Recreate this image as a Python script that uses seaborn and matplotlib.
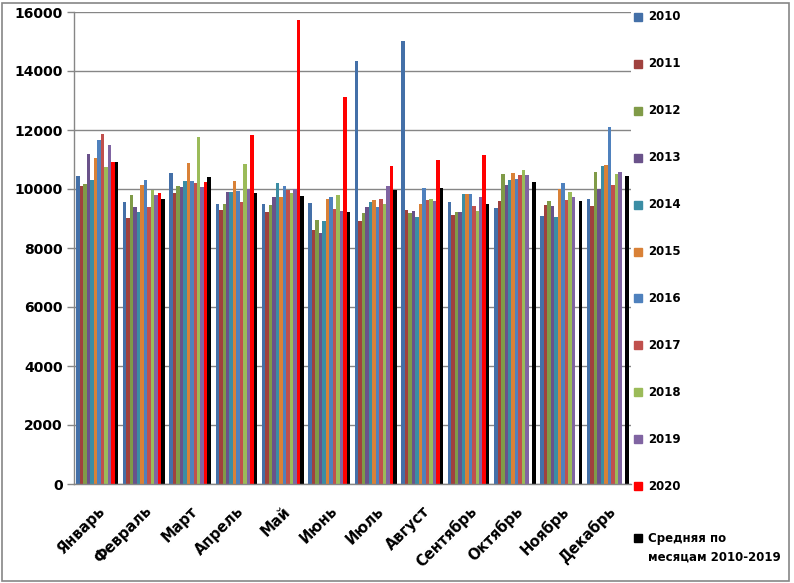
import matplotlib
matplotlib.use("Agg")
import matplotlib.pyplot as plt
from matplotlib.patches import Rectangle
import numpy as np
import pandas as pd
import seaborn as sns

months = ['Январь', 'Февраль', 'Март', 'Апрель', 'Май', 'Июнь',
          'Июль', 'Август', 'Сентябрь', 'Октябрь', 'Ноябрь', 'Декабрь']

y2010 = [10440, 9560, 10540, 9490, 9490, 9520, 14340, 15020, 9560, 9360, 9090, 9660]
y2011 = [10100, 9020, 9860, 9290, 9220, 8610, 8920, 9290, 9120, 9590, 9460, 9420]
y2012 = [10170, 9800, 10100, 9490, 9460, 8950, 9190, 9190, 9220, 10510, 9590, 10580]
y2013 = [11190, 9390, 10070, 9900, 9730, 8510, 9390, 9250, 9220, 10140, 9420, 10000]
y2014 = [10300, 9220, 10270, 9900, 10200, 8920, 9560, 9050, 9830, 10300, 9050, 10780]
y2015 = [11050, 10140, 10880, 10270, 9730, 9660, 9630, 9490, 9830, 10540, 10000, 10810]
y2016 = [11660, 10300, 10270, 9930, 10100, 9730, 9390, 10030, 9830, 10340, 10200, 12100]
y2017 = [11860, 9390, 10200, 9560, 9970, 9320, 9660, 9630, 9420, 10470, 9630, 10140]
y2018 = [10750, 9980, 11760, 10850, 9860, 9800, 9490, 9660, 9250, 10640, 9900, 10510]
y2019 = [11490, 9800, 10070, 10000, 10000, 9250, 10100, 9590, 9730, 10470, 9730, 10580]
y2020 = [10920, 9860, 10240, 11830, 15730, 13120, 10780, 10980, 11150, np.nan, np.nan, np.nan]
avg_2010_2019 = [10910, 9660, 10410, 9860, 9760, 9220, 9970, 10030, 9490, 10240, 9590, 10440]

series = ['2010', '2011', '2012', '2013', '2014', '2015', '2016', '2017',
          '2018', '2019', '2020', 'Средняя по\nмесяцам 2010-2019']
values = [y2010, y2011, y2012, y2013, y2014, y2015, y2016, y2017,
          y2018, y2019, y2020, avg_2010_2019]
colors = ['#4470A8', '#A0413E', '#809B48', '#6A528A', '#3B8DA4', '#D98137',
          '#4F81BD', '#C0504D', '#9BBB59', '#8064A2', '#FF0000', '#000000']

# длинная таблица для seaborn
rows = []
for name, vals in zip(series, values):
    for m, v in zip(months, vals):
        rows.append({'month': m, 'series': name, 'value': v})
df = pd.DataFrame(rows).dropna()

sns.set_theme(style='white')
plt.rcParams['font.family'] = ['DejaVu Sans']
plt.rcParams['text.color'] = 'black'
plt.rcParams['xtick.labelcolor'] = 'black'
plt.rcParams['ytick.labelcolor'] = 'black'

fig = plt.figure(figsize=(7.94, 5.83), dpi=100)
ax = fig.add_axes([74 / 794, 1 - 484 / 583, (631 - 74) / 794, (484 - 12) / 583])

sns.barplot(data=df, x='month', y='value', hue='series', order=months,
            hue_order=series, palette=colors, saturation=1, width=0.9,
            errorbar=None, edgecolor='none', linewidth=0, legend=False, ax=ax)

grid_col = '#868686'
ax.set_xlim(-0.5, len(months) - 0.5)
ax.set_ylim(0, 16000)
ax.set_yticks(np.arange(0, 16001, 2000))
ax.set_axisbelow(True)
ax.yaxis.grid(True, color=grid_col, linewidth=1.0)
ax.xaxis.grid(False)
for s in ['top', 'right']:
    ax.spines[s].set_visible(False)
for s in ['left', 'bottom']:
    ax.spines[s].set_color(grid_col)
    ax.spines[s].set_linewidth(1.0)

ax.set_xlabel('')
ax.set_ylabel('')
ax.set_xticks(np.arange(len(months)))
ax.set_xticklabels(months, rotation=45, ha='right', rotation_mode='anchor',
                   fontsize=10.5, fontweight='bold', color='black')
ax.set_xticks(np.arange(-0.5, len(months)), minor=True)
ax.tick_params(axis='x', which='major', length=0, pad=14)
ax.tick_params(axis='x', which='minor', length=6, color=grid_col, width=1.0)
ax.tick_params(axis='y', length=5, color=grid_col, width=1.0, left=True,
               labelsize=10, pad=3, labelcolor='black')
for lab in ax.get_yticklabels():
    lab.set_fontweight('bold')

# легенда справа
for i, (name, col) in enumerate(zip(series, colors)):
    yc = 17 + i * 46.9
    if i == len(series) - 1:
        yc = 548
        fig.patches.append(Rectangle((634 / 794, 1 - 542 / 583), 8 / 794, 8 / 583,
                                     transform=fig.transFigure, color=col))
        fig.text(648 / 794, 1 - yc / 583, name, fontsize=8.5, fontweight='bold',
                 va='center', ha='left', linespacing=1.6, color='black')
    else:
        fig.patches.append(Rectangle((634 / 794, 1 - (yc + 4) / 583), 8 / 794, 8 / 583,
                                     transform=fig.transFigure, color=col))
        fig.text(648 / 794, 1 - yc / 583, name, fontsize=8.5, fontweight='bold',
                 va='center', ha='left', color='black')

# рамка вокруг всей диаграммы
fig.patches.append(Rectangle((2 / 794, 2 / 583), 787 / 794, 578 / 583,
                             transform=fig.transFigure, fill=False,
                             edgecolor=grid_col, linewidth=1.2))

fig.savefig('out.png', dpi=100)
plt.close(fig)
